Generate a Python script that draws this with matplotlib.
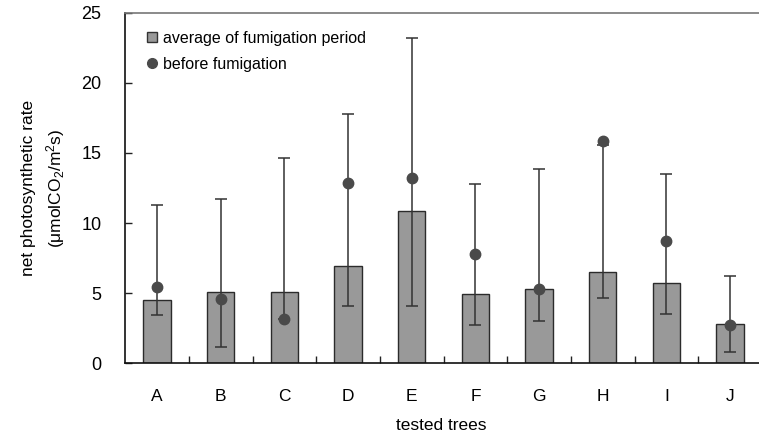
import matplotlib
matplotlib.use("Agg")
import matplotlib.pyplot as plt
from matplotlib.lines import Line2D
import numpy as np

plt.rcParams['font.family'] = ['Liberation Sans', 'DejaVu Sans']
plt.rcParams['mathtext.default'] = 'regular'

trees = ["A", "B", "C", "D", "E", "F", "G", "H", "I", "J"]
avg_fumigation = [4.51, 5.11, 5.11, 6.96, 10.84, 4.96, 5.30, 6.53, 5.75, 2.80]
range_low = [3.44, 1.19, 3.14, 4.11, 4.11, 2.73, 3.02, 4.68, 3.49, 0.81]
range_high = [11.29, 11.70, 14.62, 17.76, 23.22, 12.77, 13.84, 15.57, 13.50, 6.25]
before_fumigation = [5.46, 4.59, 3.14, 12.86, 13.19, 7.80, 5.32, 15.88, 8.70, 2.71]
y_ticks = [0, 5, 10, 15, 20, 25]

W, H = 759, 445
fig = plt.figure(figsize=(W / 100, H / 100), dpi=100)
left, right, top, bottom = 125.2, 762.0, 12.7, 363.3
ax = fig.add_axes([left / W, 1 - bottom / H, (right - left) / W, (bottom - top) / H])

x = np.arange(len(trees))
avg = np.array(avg_fumigation)
lo = np.array(range_low)
hi = np.array(range_high)

ax.bar(x, avg, width=0.43, color='#999999', edgecolor='#2b2b2b', linewidth=1.0, zorder=2)
ax.errorbar(x, avg, yerr=[avg - lo, hi - avg], fmt='none', ecolor='#333333',
            elinewidth=1.1, capsize=4.2, capthick=1.1, zorder=3)
ax.plot(x, before_fumigation, 'o', color='#4a4a4a', markersize=7.5, linestyle='none', zorder=4)

ax.set_xlim(-0.5, len(trees) - 0.5)
ax.set_ylim(0, 25)
ax.set_yticks(y_ticks)
ax.set_xticks(x)
ax.set_xticklabels(trees)
ax.set_xticks(x[:-1] + 0.5, minor=True)

ax.tick_params(axis='y', direction='in', length=5, width=1, pad=17, labelsize=13, color='#222222')
ax.tick_params(axis='x', which='major', length=0, pad=18.5, labelsize=12.5)
ax.tick_params(axis='x', which='minor', direction='in', length=5, width=1, color='#222222')

for s in ['left', 'bottom']:
    ax.spines[s].set_color('#111111')
    ax.spines[s].set_linewidth(1.2)
ax.spines['top'].set_color('#777777')
ax.spines['top'].set_linewidth(1.2)
ax.spines['right'].set_visible(False)

handles = [
    Line2D([], [], marker='s', linestyle='none', markerfacecolor='#999999',
           markeredgecolor='#333333', markersize=7, markeredgewidth=1.0),
    Line2D([], [], marker='o', linestyle='none', color='#4a4a4a', markersize=7),
]
ax.legend(handles, ["average of fumigation period", "before fumigation"],
          loc='upper left', bbox_to_anchor=(0.011, 0.99), frameon=False,
          fontsize=11.5, handlelength=0.7, handletextpad=0.3, labelspacing=0.7)

fig.text(44 / W, 1 - 188 / H, "net photosynthetic rate\n(μmolCO$_2$/m$^2$s)",
         rotation=90, ha='center', va='center', multialignment='center',
         fontsize=12.5, linespacing=1.45)
fig.text(441 / W, 1 - 426 / H, "tested trees", ha='center', va='center', fontsize=12.5)

fig.savefig("out.png", dpi=100)
